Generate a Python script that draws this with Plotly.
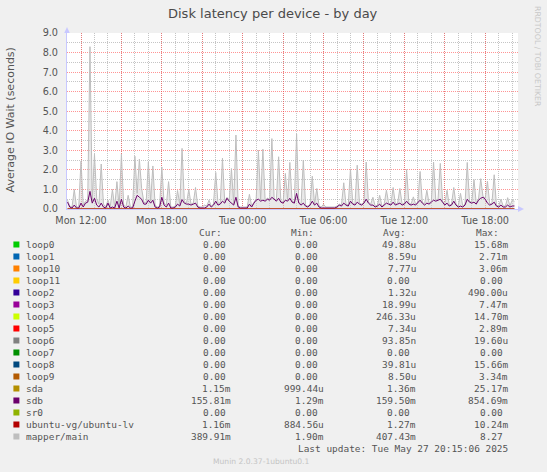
import plotly.graph_objects as go
from datetime import datetime, timedelta

# ---------------- data ----------------
START = datetime(2025, 5, 26, 11, 0)
STEP_MIN = 10

# mapper/main (seconds), 10-minute samples from Mon 11:00
mapper_main = [
    0.45, 0.15, 0.1, 1.0, 0.1, 0.1, 2.45, 0.2, 0.4, 0.45, 8.3, 0.4,
    2.8, 0.5, 0.25, 2.3, 0.25, 0.1, 0.45, 0.1, 1.0, 0.1, 1.4, 0.1,
    2.8, 0.2, 0.1, 0.7, 0.1, 0.1, 2.7, 0.8, 2.55, 1.05, 0.35, 0.3,
    2.4, 0.4, 2.2, 0.2, 0.1, 0.15, 2.15, 0.3, 0.2, 1.4, 0.1, 0.1,
    0.15, 0.95, 0.2, 3.1, 0.4, 0.3, 1.0, 0.25, 0.3, 1.1, 0.15, 0.1,
    0.1, 0.2, 0.15, 0.45, 0.15, 0.25, 1.87, 0.3, 0.3, 2.6, 0.35, 0.6,
    0.45, 2.07, 0.25, 3.78, 0.15, 0.1, 0.1, 0.1, 0.1, 0.75, 0.15, 0.35,
    0.5, 3.0, 0.45, 3.06, 0.45, 0.55, 0.5, 3.6, 0.55, 0.45, 2.67, 0.4,
    0.35, 1.82, 0.45, 2.38, 0.4, 0.35, 3.83, 0.35, 0.25, 2.5, 0.2, 0.15,
    0.25, 1.68, 0.25, 1.05, 0.15, 0.1, 0.24, 0.1, 0.1, 0.1, 0.1, 0.1,
    0.15, 0.25, 0.2, 1.34, 0.25, 0.2, 2.05, 0.3, 0.25, 2.24, 0.3, 0.25,
    0.35, 2.4, 0.35, 0.25, 0.6, 0.15, 0.2, 0.7, 0.15, 0.25, 0.96, 0.3,
    0.25, 1.1, 0.25, 0.3, 1.05, 0.25, 0.3, 2.02, 0.3, 0.25, 0.62, 0.25,
    0.35, 1.92, 0.35, 0.25, 0.96, 0.3, 0.4, 2.4, 0.45, 0.5, 2.33, 0.4,
    0.25, 0.96, 0.2, 0.25, 1.1, 0.25, 0.15, 0.8, 0.15, 0.25, 2.38, 0.4,
    0.35, 1.5, 0.3, 0.5, 1.55, 0.65, 0.55, 1.42, 0.25, 0.3, 1.75, 0.2,
    0.15, 0.5, 0.15, 0.15, 0.58, 0.15, 0.45, 0.39,
]

# sdb (seconds), same sampling
sdb = [
    0.35, 0.1, 0.05, 0.2, 0.05, 0.05, 0.3, 0.1, 0.3, 0.35, 0.9, 0.3,
    0.55, 0.2, 0.1, 0.3, 0.1, 0.05, 0.3, 0.05, 0.1, 0.05, 0.4, 0.05,
    0.5, 0.1, 0.05, 0.15, 0.05, 0.05, 0.4, 0.7, 0.6, 0.5, 0.25, 0.25,
    0.45, 0.3, 0.45, 0.1, 0.05, 0.1, 0.6, 0.2, 0.1, 0.3, 0.05, 0.05,
    0.1, 0.25, 0.15, 0.48, 0.3, 0.25, 0.25, 0.2, 0.25, 0.3, 0.1, 0.05,
    0.05, 0.05, 0.1, 0.25, 0.1, 0.2, 0.4, 0.2, 0.25, 0.4, 0.3, 0.55,
    0.4, 0.3, 0.2, 0.6, 0.1, 0.05, 0.05, 0.05, 0.05, 0.25, 0.1, 0.3,
    0.45, 0.5, 0.4, 0.45, 0.4, 0.5, 0.45, 0.6, 0.5, 0.4, 0.55, 0.35,
    0.3, 0.45, 0.4, 0.55, 0.35, 0.3, 0.8, 0.3, 0.2, 0.3, 0.15, 0.1,
    0.2, 0.4, 0.2, 0.3, 0.1, 0.05, 0.05, 0.05, 0.05, 0.05, 0.05, 0.05,
    0.1, 0.2, 0.15, 0.3, 0.2, 0.15, 0.4, 0.25, 0.2, 0.35, 0.25, 0.2,
    0.3, 0.5, 0.3, 0.2, 0.2, 0.1, 0.15, 0.25, 0.1, 0.2, 0.3, 0.25,
    0.2, 0.35, 0.2, 0.25, 0.3, 0.2, 0.25, 0.4, 0.25, 0.2, 0.25, 0.2,
    0.3, 0.45, 0.3, 0.2, 0.3, 0.25, 0.35, 0.45, 0.4, 0.45, 0.5, 0.35,
    0.2, 0.3, 0.15, 0.2, 0.4, 0.2, 0.1, 0.15, 0.1, 0.2, 0.5, 0.35,
    0.3, 0.35, 0.25, 0.45, 0.55, 0.6, 0.5, 0.3, 0.2, 0.25, 0.35, 0.15,
    0.1, 0.2, 0.1, 0.1, 0.2, 0.1, 0.15, 0.156,
]

# near-zero devices, sparse samples
sparse_times = ["2025-05-26 11:00", "2025-05-26 14:00", "2025-05-26 17:00",
                "2025-05-26 20:00", "2025-05-26 23:00", "2025-05-27 02:00",
                "2025-05-27 05:00", "2025-05-27 08:00", "2025-05-27 11:00",
                "2025-05-27 14:00", "2025-05-27 17:00", "2025-05-27 20:10"]
sda_vals = [0.0014, 0.0013, 0.0015, 0.0012, 0.0014, 0.0016,
            0.0013, 0.0012, 0.0014, 0.0013, 0.0014, 0.00115]
ubuntu_lv_vals = [0.0013, 0.0012, 0.0014, 0.0011, 0.0013, 0.0015,
                  0.0012, 0.0011, 0.0013, 0.0012, 0.0013, 0.00116]

# legend table
legend_names = ["loop0", "loop1", "loop10", "loop11", "loop2", "loop3", "loop4",
                "loop5", "loop6", "loop7", "loop8", "loop9", "sda", "sdb", "sr0",
                "ubuntu-vg/ubuntu-lv", "mapper/main"]
legend_colors = ["#00CC00", "#0066B3", "#FF8000", "#FFCC00", "#330099", "#990099",
                 "#CCFF00", "#FF0000", "#808080", "#008F00", "#00487D", "#B35A00",
                 "#B38F00", "#6B006B", "#8FB300", "#B30000", "#BEBEBE"]
cur_vals = ["0.00"] * 12 + ["1.15m", "155.81m", "0.00", "1.16m", "389.91m"]
min_vals = ["0.00"] * 12 + ["999.44u", "1.29m", "0.00", "884.56u", "1.90m"]
avg_vals = ["49.88u", "8.59u", "7.77u", "0.00", "1.32u", "18.99u", "246.33u",
            "7.34u", "93.85n", "0.00", "39.81u", "8.50u", "1.36m", "159.50m",
            "0.00", "1.27m", "407.43m"]
max_vals = ["15.68m", "2.71m", "3.06m", "0.00", "490.00u", "7.47m", "14.70m",
            "2.89m", "19.60u", "0.00", "15.66m", "3.34m", "25.17m", "854.69m",
            "0.00", "10.24m", "8.27"]

x_tick_vals = ["2025-05-26 12:00", "2025-05-26 15:00", "2025-05-26 18:00",
               "2025-05-26 21:00", "2025-05-27 00:00", "2025-05-27 03:00",
               "2025-05-27 06:00", "2025-05-27 09:00", "2025-05-27 12:00",
               "2025-05-27 15:00", "2025-05-27 18:00"]
x_tick_text = ["Mon 12:00", "", "Mon 18:00", "", "Tue 00:00", "",
               "Tue 06:00", "", "Tue 12:00", "", "Tue 18:00"]

# ---------------- figure ----------------
times = [START + timedelta(minutes=STEP_MIN * i) for i in range(len(mapper_main))]

W, H = 547, 472
L, R, T, B = 67, 518, 33, 209


def xp(px):
    return (px - L) / (R - L)


def yp(py):
    return (B - py) / (B - T)


fig = go.Figure()
fig.add_trace(go.Scatter(x=times, y=mapper_main, mode="lines",
                         line=dict(color="#BEBEBE", width=1),
                         fill="tozeroy", fillcolor="rgba(215,215,215,0.55)",
                         hoverinfo="skip"))
fig.add_trace(go.Scatter(x=sparse_times, y=sda_vals, mode="lines",
                         line=dict(color="#B38F00", width=1), hoverinfo="skip"))
fig.add_trace(go.Scatter(x=times, y=sdb, mode="lines",
                         line=dict(color="#6B006B", width=1), hoverinfo="skip"))
fig.add_trace(go.Scatter(x=sparse_times, y=ubuntu_lv_vals, mode="lines",
                         line=dict(color="#B30000", width=1), hoverinfo="skip"))

major_grid = "rgba(255,60,60,0.55)"
minor_grid = "rgba(150,150,150,0.55)"

fig.update_layout(
    width=W, height=H,
    margin=dict(l=L, r=W - R, t=T, b=H - B, pad=0),
    paper_bgcolor="#F0F0F0",
    plot_bgcolor="#FFFFFF",
    showlegend=False,
    hovermode=False,
    font=dict(family="DejaVu Sans", size=10, color="#555555"),
    xaxis=dict(
        type="date",
        range=["2025-05-26 10:57:40", "2025-05-27 20:26:00"],
        tickmode="array", tickvals=x_tick_vals, ticktext=x_tick_text,
        showgrid=True, gridcolor=major_grid, griddash="1px,1px", gridwidth=1,
        minor=dict(tickmode="linear", tick0="2025-05-26 00:00", dtick=3600000,
                   showgrid=True, gridcolor=minor_grid, griddash="1px,1px", ticks=""),
        showline=True, linecolor="#C8C8FF", linewidth=1,
        zeroline=False, ticks="", tickfont=dict(size=9.7, color="#555555"),
        ticklabelstandoff=2,
    ),
    yaxis=dict(
        range=[0, 9.0],
        tickmode="linear", tick0=0, dtick=1, tickformat=".1f",
        showgrid=True, gridcolor=major_grid, griddash="1px,1px", gridwidth=1,
        minor=dict(dtick=0.5, showgrid=True, gridcolor=minor_grid,
                   griddash="1px,1px", ticks=""),
        showline=True, linecolor="#C8C8FF", linewidth=1,
        zeroline=False, ticks="", tickfont=dict(size=9.7, color="#555555"),
        ticklabelstandoff=6,
    ),
)

ann = []
shapes = []

# title
ann.append(dict(x=xp(273), y=yp(13.5), xref="paper", yref="paper",
                text="Disk latency per device - by day", showarrow=False,
                font=dict(family="DejaVu Sans", size=13, color="#4a4a4a"),
                xanchor="center", yanchor="middle"))
# y-axis title
ann.append(dict(x=xp(10.5), y=yp(120), xref="paper", yref="paper",
                text="Average IO Wait (seconds)", showarrow=False, textangle=-90,
                font=dict(family="DejaVu Sans", size=11, color="#555555"),
                xanchor="center", yanchor="middle"))
# rrdtool credit
ann.append(dict(x=xp(538), y=yp(56), xref="paper", yref="paper",
                text="RRDTOOL / TOBI OETIKER", showarrow=False, textangle=90,
                font=dict(family="DejaVu Sans", size=7.8, color="#C8C8C8"),
                xanchor="center", yanchor="middle"))

mono = dict(family="DejaVu Sans Mono", size=9.45, color="#555555")
CH = 5.7
# headers
for txt, x0 in [("Cur:", 198), ("Min:", 290), ("Avg:", 382), ("Max:", 474.7)]:
    ann.append(dict(x=xp(x0), y=yp(232.3), xref="paper", yref="paper", text=txt,
                    showarrow=False, font=mono, xanchor="left", yanchor="middle"))

col_ends = [232.3, 325.0, 416.7, 509.3]
for k, name in enumerate(legend_names):
    yc = 244.5 + 12 * k
    shapes.append(dict(type="rect", xref="paper", yref="paper",
                       x0=xp(13.4), x1=xp(19.4), y0=yp(yc + 3), y1=yp(yc - 3),
                       fillcolor=legend_colors[k], line=dict(width=0)))
    ann.append(dict(x=xp(25), y=yp(yc), xref="paper", yref="paper", text=name,
                    showarrow=False, font=mono, xanchor="left", yanchor="middle"))
    for col, vals in enumerate([cur_vals, min_vals, avg_vals, max_vals]):
        v = vals[k]
        xe = col_ends[col] - (CH if v[-1].isdigit() else 0)
        ann.append(dict(x=xp(xe), y=yp(yc), xref="paper", yref="paper", text=v,
                        showarrow=False, font=mono, xanchor="right", yanchor="middle"))

ann.append(dict(x=xp(509.3), y=yp(448.5), xref="paper", yref="paper",
                text="Last update: Tue May 27 20:15:06 2025", showarrow=False,
                font=mono, xanchor="right", yanchor="middle"))
ann.append(dict(x=xp(261), y=yp(461), xref="paper", yref="paper",
                text="Munin 2.0.37-1ubuntu0.1", showarrow=False,
                font=dict(family="DejaVu Sans", size=7.6, color="#C4C4C4"),
                xanchor="center", yanchor="middle"))

for a in ann:
    a["borderpad"] = 0


# axis arrows
def tri(p1, p2, p3):
    return "M {} {} L {} {} L {} {} Z".format(xp(p1[0]), yp(p1[1]), xp(p2[0]), yp(p2[1]),
                                             xp(p3[0]), yp(p3[1]))


shapes.append(dict(type="path", xref="paper", yref="paper",
                   path=tri((64.2, 33), (69.8, 33), (67, 27)),
                   fillcolor="#C8C8FF", line=dict(width=0)))
shapes.append(dict(type="path", xref="paper", yref="paper",
                   path=tri((518, 206), (518, 212), (524, 209)),
                   fillcolor="#C8C8FF", line=dict(width=0)))

fig.update_layout(annotations=ann, shapes=shapes)
fig.write_html(
    "out.html",
    config={"displayModeBar": False, "staticPlot": True},
    post_script="document.body.style.margin='0px';document.body.style.overflow='hidden';",
)
